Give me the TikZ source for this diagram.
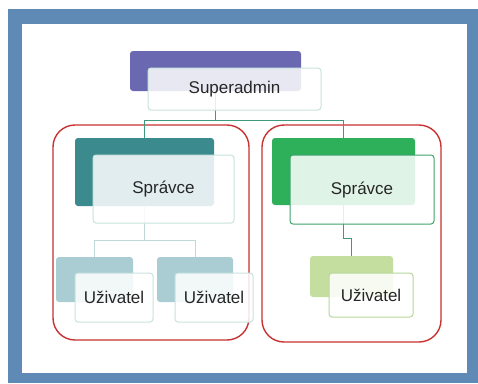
\documentclass[tikz,border=0pt]{standalone}
\usepackage{fontspec}
\setmainfont{Liberation Sans}
\definecolor{frameblue}{HTML}{5F8AB5}
\definecolor{purpleb}{HTML}{6A68B0}
\definecolor{tealb}{HTML}{3A8A8E}
\definecolor{greenb}{HTML}{2EAF5A}
\definecolor{lteal}{HTML}{A9CDD3}
\definecolor{lgreen}{HTML}{C3DE9F}
\definecolor{grpred}{HTML}{C83232}
\definecolor{edgeteal}{HTML}{C8E2DE}
\definecolor{edgegreen}{HTML}{3FA36E}
\definecolor{edgelgreen}{HTML}{B8D69A}
\definecolor{linkgreen}{HTML}{3E9A7A}
\definecolor{linkgray}{HTML}{C2D9D9}
\begin{document}
\begin{tikzpicture}[x=1pt,y=-1pt,
  backbox/.style={rectangle,rounded corners=3pt,draw=none,inner sep=0pt},
  frontbox/.style={rectangle,rounded corners=3pt,fill=white,fill opacity=0.85,text opacity=1,line width=1pt,inner sep=0pt,font=\fontsize{17}{20}\selectfont,text=black!85},
  group/.style={draw=grpred,line width=1.4pt,rounded corners=22pt},
  link/.style={draw=linkgreen,line width=1pt},
  sublink/.style={draw=linkgray,line width=1pt}]
\useasboundingbox (0,0) rectangle (478,383);
\fill[frameblue] (8,9) rectangle (478,383);
\fill[white] (22,24) rectangle (467,373);
% groups
\draw[group] (53,125) rectangle (249,340);
\draw[group] (262,125) rectangle (441,342);
% back boxes
\node[backbox,fill=purpleb,minimum width=171pt,minimum height=40pt] (saB) at (215.5,71) {};
\node[backbox,fill=tealb,minimum width=139pt,minimum height=68pt] (s1B) at (144.5,172) {};
\node[backbox,fill=greenb,minimum width=143pt,minimum height=67pt] (s2B) at (343.5,171.5) {};
\node[backbox,fill=lteal,minimum width=77pt,minimum height=45pt] (u1B) at (94.5,279.5) {};
\node[backbox,fill=lteal,minimum width=76pt,minimum height=45pt] (u2B) at (195,279.5) {};
\node[backbox,fill=lgreen,minimum width=83pt,minimum height=41pt] (u3B) at (351.5,276.5) {};
% connectors
\draw[link] (saB.south) -- ++(0,29) coordinate (j0) -| (s1B.north);
\draw[link] (j0) -| (s2B.north);
\draw[sublink] (s1B.south) -- ++(0,34) coordinate (j1) -| (u1B.north);
\draw[sublink] (j1) -| (u2B.north);
\draw[link] (s2B.south) -- ++(0,33) -| (u3B.north);
% front boxes
\node[frontbox,draw=edgeteal,minimum width=173pt,minimum height=42pt] (sa) at (234.5,89) {Superadmin};
\node[frontbox,draw=edgeteal,minimum width=141pt,minimum height=68pt] (s1) at (163.5,189) {Správce};
\node[frontbox,draw=edgegreen,minimum width=144pt,minimum height=69pt] (s2) at (362,189.5) {Správce};
\node[frontbox,draw=edgeteal,minimum width=78pt,minimum height=49pt] (u1) at (114,297.5) {Uživatel};
\node[frontbox,draw=edgeteal,minimum width=78pt,minimum height=49pt] (u2) at (214,297.5) {Uživatel};
\node[frontbox,draw=edgelgreen,minimum width=84pt,minimum height=44pt] (u3) at (371,295) {Uživatel};
\end{tikzpicture}
\end{document}
